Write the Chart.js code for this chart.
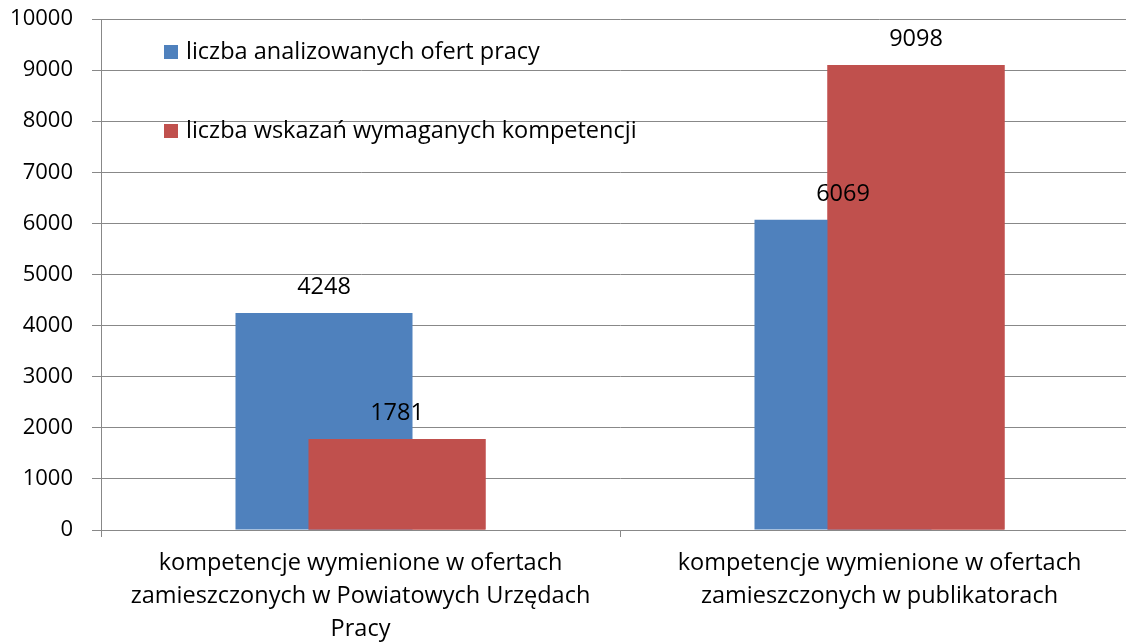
<!DOCTYPE html>
<html>
<head>
<meta charset="utf-8">
<script src="https://cdn.jsdelivr.net/npm/chart.js@4.4.0/dist/chart.umd.min.js"></script>
<style>
    html, body { margin: 0; padding: 0; background: #ffffff; overflow: hidden; }
    #wrap { width: 1140px; height: 642px; }
</style>
</head>
<body>
<div id="wrap"><canvas id="chart" width="1140" height="642"></canvas></div>
<script>
// Overlapping bar chart: job offers vs. required competences.

const categories = [
    ['kompetencje wymienione w ofertach', 'zamieszczonych w Powiatowych Urzędach', 'Pracy'],
    ['kompetencje wymienione w ofertach', 'zamieszczonych w publikatorach']
];
const seriesNames = ['liczba analizowanych ofert pracy', 'liczba wskazań wymaganych kompetencji'];
const offersAnalysed = [4248, 6069];
const competencesNamed = [1781, 9098];
const yTicks = [0, 1000, 2000, 3000, 4000, 5000, 6000, 7000, 8000, 9000, 10000];

const FONT = '"Open Sans", sans-serif';
const TEXT_SIZE = 23.5;
const NUMBER_SIZE = 23.5;
const AXIS_NUMBER_SIZE = 22;
const gridColor = '#888888';

// Legend sits inside the plot, top left, like the original spreadsheet chart
const insideLegend = {
    id: 'insideLegend',
    afterDraw(chart) {
        const { ctx, chartArea } = chart;
        ctx.save();
        ctx.font = `${TEXT_SIZE}px ${FONT}`;
        ctx.textBaseline = 'middle';
        ctx.textAlign = 'left';
        chart.data.datasets.forEach((dataset, i) => {
            const y = chartArea.top + 33 + i * 79;
            ctx.fillStyle = dataset.backgroundColor;
            ctx.fillRect(chartArea.left + 63, y - 7, 14, 14);
            ctx.fillStyle = '#000000';
            ctx.fillText(dataset.label, chartArea.left + 85, y);
        });
        ctx.restore();
    }
};

// Red series is painted over the blue one, then value labels on top
const overlapAndLabels = {
    id: 'overlapAndLabels',
    afterDatasetsDraw(chart) {
        const { ctx } = chart;
        chart.getDatasetMeta(1).controller.draw();
        ctx.save();
        ctx.font = `${NUMBER_SIZE}px ${FONT}`;
        ctx.fillStyle = '#000000';
        ctx.textAlign = 'center';
        ctx.textBaseline = 'alphabetic';
        chart.data.datasets.forEach((dataset, i) => {
            chart.getDatasetMeta(i).data.forEach((bar, j) => {
                ctx.fillText(String(dataset.data[j]), bar.x, bar.y - 19);
            });
        });
        ctx.restore();
    }
};

new Chart(document.getElementById('chart'), {
    type: 'bar',
    data: {
        labels: categories,
        datasets: [
            {
                label: seriesNames[0],
                data: offersAnalysed,
                backgroundColor: '#4f81bd',
                categoryPercentage: 0.2813,
                barPercentage: 2.425
            },
            {
                label: seriesNames[1],
                data: competencesNamed,
                backgroundColor: '#c0504d',
                categoryPercentage: 0.2813,
                barPercentage: 2.425
            }
        ]
    },
    options: {
        responsive: false,
        animation: false,
        layout: { padding: { top: 19, right: 1, left: 0, bottom: 0 } },
        plugins: {
            legend: { display: false },
            tooltip: { enabled: false }
        },
        scales: {
            x: {
                offset: true,
                grid: {
                    offset: true,
                    drawOnChartArea: false,
                    drawTicks: true,
                    tickLength: 7,
                    color: gridColor
                },
                border: { color: gridColor },
                ticks: {
                    color: '#000000',
                    font: { family: FONT, size: TEXT_SIZE, lineHeight: '33px' },
                    padding: 10,
                    maxRotation: 0,
                    autoSkip: false
                },
                afterFit(scale) { scale.height = 112; }
            },
            y: {
                min: 0,
                max: 10000,
                afterBuildTicks(scale) {
                    scale.ticks = yTicks.map(value => ({ value }));
                },
                grid: {
                    color: gridColor,
                    tickLength: 9
                },
                border: { color: gridColor },
                ticks: {
                    color: '#000000',
                    font: { family: FONT, size: AXIS_NUMBER_SIZE },
                    padding: 19,
                    callback: value => String(value)
                },
                afterFit(scale) {
                    scale.width = 101;
                    scale.paddingTop = 0;
                    scale.paddingBottom = 0;
                }
            }
        }
    },
    plugins: [overlapAndLabels, insideLegend]
});
</script>
</body>
</html>
